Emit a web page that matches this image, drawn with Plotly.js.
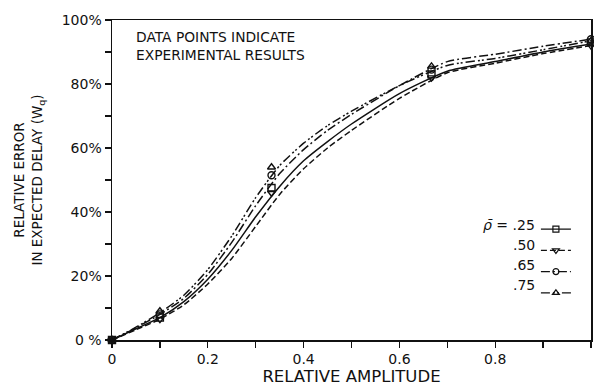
<!DOCTYPE html>
<html>
<head>
<meta charset="utf-8">
<script src="https://cdn.plot.ly/plotly-3.0.1.min.js"></script>
<style>html,body{margin:0;padding:0;background:#fff}#chart{width:594px;height:389px}</style>
</head>
<body>
<div id="chart"></div>
<script>
// curve sample points
const curveX = [0, 0.05, 0.1, 0.15, 0.2, 0.25, 0.3, 0.35, 0.4, 0.45, 0.5, 0.6, 0.7, 0.8, 0.9, 1.0];
const curve25 = [0, 3.5, 7, 12, 19, 28, 38.5, 48, 56, 62, 67.5, 77, 84, 87, 90, 92.5];
const curve50 = [0, 3.2, 6.5, 11, 17.5, 25.5, 35.5, 45.5, 53.5, 60, 65.5, 75.5, 83.5, 86.5, 89.5, 92];
const curve65 = [0, 3.8, 8, 13, 20.5, 30.5, 42, 52, 59.5, 65.5, 70.5, 79.5, 87, 89.3, 91.8, 94];
const curve75 = [0, 4, 8.5, 14, 22, 32.5, 44.5, 54.5, 61.5, 67, 71.5, 79.5, 85.8, 88, 90.7, 93.5];

// experimental data points
const expX = [0, 0.1, 0.333, 0.667, 1.0];
const exp25 = [0, 7, 47.5, 83, 93];
const exp50 = [0, 6.5, 46, 82, 92];
const exp65 = [0, 8, 51.5, 84.5, 94];
const exp75 = [0, 9, 54, 85.5, 93.5];

const rhoLabels = ['.25', '.50', '.65', '.75'];

const yTickVals = [0, 10, 20, 30, 40, 50, 60, 70, 80, 90, 100];
const yTickText = ['0 %', '', '20%', '', '40%', '', '60%', '', '80%', '', '100%'];
const xTickVals = [0, 0.1, 0.2, 0.3, 0.4, 0.5, 0.6, 0.7, 0.8, 0.9, 1];
const xTickText = ['0', '', '0.2', '', '0.4', '', '0.6', '', '0.8', '', '1'];

const series = [
  {c: curve25, e: exp25, sym: 'square-open', dash: 'solid'},
  {c: curve50, e: exp50, sym: 'triangle-down-open', dash: '6px,3px'},
  {c: curve65, e: exp65, sym: 'circle-open', dash: '9px,3px,2px,3px'},
  {c: curve75, e: exp75, sym: 'triangle-up-open', dash: '9px,3px,2px,2px,2px,3px'}
];

const traces = [];
series.forEach((s, i) => {
  traces.push({x: curveX, y: s.c, mode: 'lines', line: {color: '#111', width: 1.5, dash: s.dash, shape: 'spline', smoothing: 0.6}, showlegend: false, hoverinfo: 'skip'});
  traces.push({x: expX, y: s.e, mode: 'markers', marker: {symbol: s.sym, size: 7, color: '#111', line: {width: 1.4, color: '#111'}}, showlegend: false, cliponaxis: false});
});
series.forEach((s, i) => {
  traces.push({x: [null], y: [null], mode: 'lines+markers', name: ' ', line: {color: '#111', width: 1.3, dash: s.dash}, marker: {symbol: s.sym, size: 6, color: '#111', line: {width: 1.2, color: '#111'}}, showlegend: true});
});

const font = {family: 'DejaVu Sans, sans-serif', color: '#111'};

const annotations = rhoLabels.map((r, i) => ({
  xref: 'paper', yref: 'paper', x: 0.888, y: 0.359 - i * 0.0625, xanchor: 'right', yanchor: 'middle',
  text: (i === 0 ? '<i>ρ̄</i> = ' : '') + r, showarrow: false, font: Object.assign({}, font, {size: 14})
}));
annotations.push({
  xref: 'paper', yref: 'paper', x: 0.046, y: 0.978, xanchor: 'left', yanchor: 'top', align: 'left',
  text: 'DATA POINTS INDICATE<br>EXPERIMENTAL RESULTS', showarrow: false,
  font: Object.assign({}, font, {size: 13.8})
});

const layout = {
  width: 594, height: 389,
  margin: {l: 112, r: 3, t: 20, b: 49},
  paper_bgcolor: '#fff', plot_bgcolor: '#fff',
  font: font,
  showlegend: true,
  legend: {x: 0.885, y: 0.395, xanchor: 'left', yanchor: 'top', bgcolor: 'rgba(0,0,0,0)', font: Object.assign({}, font, {size: 14}), tracegroupgap: 0, itemwidth: 30},
  xaxis: {
    range: [0, 1], tickvals: xTickVals, ticktext: xTickText, ticks: 'outside', ticklen: 6, tickwidth: 1.2, tickcolor: '#111',
    showline: true, linecolor: '#111', linewidth: 1.5, mirror: true, showgrid: false, zeroline: false,
    tickfont: Object.assign({}, font, {size: 14}),
    title: {text: 'RELATIVE AMPLITUDE', font: Object.assign({}, font, {size: 16.5}), standoff: 4}
  },
  yaxis: {
    range: [0, 100], tickvals: yTickVals, ticktext: yTickText, ticks: 'outside', ticklen: 6, tickwidth: 1.2, tickcolor: '#111',
    showline: true, linecolor: '#111', linewidth: 1.5, mirror: true, showgrid: false, zeroline: false,
    tickfont: Object.assign({}, font, {size: 14}),
    title: {text: 'RELATIVE ERROR<br>IN EXPECTED DELAY (W<sub>q</sub>)', font: Object.assign({}, font, {size: 13.5}), standoff: 16}
  },
  annotations: annotations
};

Plotly.newPlot('chart', traces, layout, {staticPlot: true, displayModeBar: false});
</script>
</body>
</html>
